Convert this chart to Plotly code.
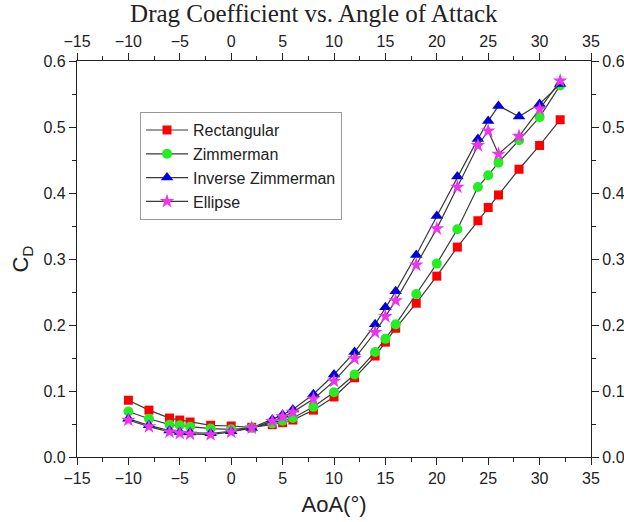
import plotly.graph_objects as go

# angle of attack (deg)
aoa = [-10, -8, -6, -5, -4, -2, 0, 2, 4, 5, 6, 8, 10, 12, 14, 15, 16, 18, 20, 22, 24, 25, 26, 28, 30, 32]

cd_rect = [0.086, 0.071, 0.059, 0.056, 0.053, 0.048, 0.047, 0.045, 0.049, 0.052, 0.056, 0.071, 0.091,
           0.120, 0.153, 0.174, 0.195, 0.233, 0.274, 0.318, 0.358, 0.378, 0.397, 0.436, 0.472, 0.511]
cd_zimm = [0.069, 0.058, 0.049, 0.048, 0.046, 0.043, 0.042, 0.044, 0.051, 0.055, 0.059, 0.076, 0.098,
           0.125, 0.159, 0.179, 0.201, 0.247, 0.293, 0.345, 0.409, 0.427, 0.446, 0.480, 0.515, 0.563]
cd_inv = [0.058, 0.048, 0.040, 0.038, 0.037, 0.036, 0.039, 0.044, 0.057, 0.064, 0.072, 0.095, 0.125,
          0.159, 0.201, 0.227, 0.251, 0.306, 0.365, 0.425, 0.482, 0.509, 0.532, 0.516, 0.535, 0.565]
cd_ell = [0.056, 0.046, 0.038, 0.036, 0.035, 0.034, 0.038, 0.044, 0.054, 0.061, 0.068, 0.088, 0.115,
          0.149, 0.189, 0.213, 0.237, 0.291, 0.346, 0.409, 0.472, 0.494, 0.459, 0.486, 0.527, 0.570]

series = [
    ("Rectangular", cd_rect, "square", "#ff0000", 9),
    ("Zimmerman", cd_zimm, "circle", "#22ee22", 10),
    ("Inverse Zimmerman", cd_inv, "triangle-up", "#0000dd", 11),
    ("Ellipse", cd_ell, "star", "#ee33ee", 11),
]

fig = go.Figure()
for name, vals, sym, col, sz in series:
    fig.add_trace(go.Scatter(
        x=aoa, y=vals, name=name, mode="lines+markers",
        line=dict(color="#3a3a3a", width=1.2),
        marker=dict(symbol=sym, color=col, size=sz, line=dict(width=0)),
    ))

# dummy trace so the top/right axes get drawn
fig.add_trace(go.Scatter(x=[None], y=[None], xaxis="x2", yaxis="y2", showlegend=False, hoverinfo="skip"))

sans = "Liberation Sans, Arial"
tick_font = dict(family=sans, size=16, color="#222")
minor = dict(ticks="outside", ticklen=4, tickcolor="#222")
ax_common = dict(
    showgrid=False, zeroline=False, showline=True, linecolor="#222", linewidth=1.2,
    ticks="outside", ticklen=7, tickcolor="#222", tickfont=tick_font, automargin=False,
)

fig.update_layout(
    width=624, height=522,
    paper_bgcolor="white", plot_bgcolor="white",
    margin=dict(l=77, r=33, t=61, b=65),
    title=dict(text="Drag Coefficient vs. Angle of Attack", x=0.503, xanchor="center", y=0.992, yanchor="top",
               font=dict(family="Liberation Serif, Times New Roman", size=25, color="#222")),
    xaxis=dict(range=[-15, 35], dtick=5, minor=dict(dtick=2.5, **minor),
               title=dict(text="AoA(°)", font=dict(family=sans, size=22, color="#222"), standoff=10),
               **ax_common),
    yaxis=dict(range=[0, 0.6], dtick=0.1, tickformat=".1f", minor=dict(dtick=0.05, **minor),
               title=dict(text="C<sub>D</sub>", font=dict(family=sans, size=22, color="#222"), standoff=8),
               **ax_common),
    xaxis2=dict(range=[-15, 35], dtick=5, overlaying="x", side="top", anchor="y2",
                minor=dict(dtick=2.5, **minor), **ax_common),
    yaxis2=dict(range=[0, 0.6], dtick=0.1, tickformat=".1f", overlaying="y", side="right", anchor="x2",
                minor=dict(dtick=0.05, **minor), **ax_common),
    legend=dict(x=0.1226, y=0.871, xanchor="left", yanchor="top", bgcolor="white",
                bordercolor="#999", borderwidth=1, tracegroupgap=0, itemwidth=42,
                font=dict(family=sans, size=16, color="#222")),
)

fig.write_html("out.html", config={"displayModeBar": False},
               post_script="document.body.style.margin='0';")
